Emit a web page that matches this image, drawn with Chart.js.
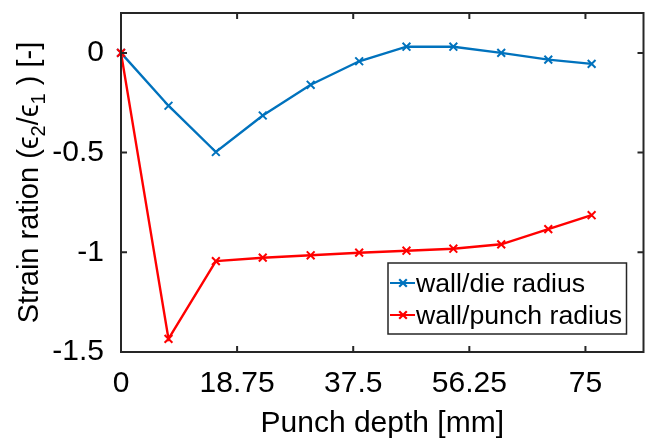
<!DOCTYPE html>
<html>
<head>
<meta charset="utf-8">
<script src="https://cdn.jsdelivr.net/npm/chart.js@4"></script>
<style>
  body { margin: 0; background: #fff; }
  #wrap { width: 651px; height: 442px; }
</style>
</head>
<body>
<div id="wrap"><canvas id="grafico"></canvas></div>
<script>
// punch depth [mm] of each measuring step
const depth = [0, 7.67, 15.32, 22.89, 30.63, 38.46, 46.1, 53.67, 61.4, 69.0, 76.0];
// strain ratio eps2/eps1
const dieRadius = [0, -0.265, -0.497, -0.314, -0.16, -0.042, 0.031, 0.031, 0, -0.034, -0.055];
const punchRadius = [0, -1.434, -1.044, -1.027, -1.015, -1.002, -0.992, -0.982, -0.96, -0.884, -0.814];
const seriesNames = ["wall/die radius", "wall/punch radius"];
const xTicks = [0, 18.75, 37.5, 56.25, 75];
const yTicks = [-1.5, -1, -0.5, 0];
const yTickLabels = ["-1.5", "-1", "-0.5", "0"];

const FONT = "'Liberation Sans', Arial, Helvetica, sans-serif";
const AXIS = "#262626";
const BLUE = "#0072BD";
const RED = "#FF0000";

function pares(xs, ys){
    return xs.map((x, i) => ({x: x, y: ys[i]}));
}

// box, inner ticks, y label with subscripts, legend
const adornos = {
    id: "adornos",
    afterDraw(chart){
        const ctx = chart.ctx;
        const a = chart.chartArea;
        const sx = chart.scales.x;
        const sy = chart.scales.y;
        const tl = 6;
        ctx.save();
        ctx.strokeStyle = AXIS;
        ctx.lineWidth = 2;
        ctx.strokeRect(a.left, a.top, a.right - a.left, a.bottom - a.top);
        ctx.beginPath();
        xTicks.forEach(v => {
            const px = sx.getPixelForValue(v);
            ctx.moveTo(px, a.bottom); ctx.lineTo(px, a.bottom - tl);
            ctx.moveTo(px, a.top); ctx.lineTo(px, a.top + tl);
        });
        yTicks.forEach(v => {
            const py = sy.getPixelForValue(v);
            ctx.moveTo(a.left, py); ctx.lineTo(a.left + tl, py);
            ctx.moveTo(a.right, py); ctx.lineTo(a.right - tl, py);
        });
        ctx.stroke();

        // y axis title
        const big = "29px " + FONT;
        const small = "20px " + FONT;
        const partes = [
            {t: "Strain ration (", f: big, d: 0},
            {t: "\u03F5", f: big, d: 0},
            {t: "2", f: small, d: 7},
            {t: "/", f: big, d: 0},
            {t: "\u03F5", f: big, d: 0},
            {t: "1", f: small, d: 7},
            {t: " ) [-]", f: big, d: 0}
        ];
        let total = 0;
        partes.forEach(p => { ctx.font = p.f; p.w = ctx.measureText(p.t).width; total += p.w; });
        ctx.translate(38, (a.top + a.bottom) / 2);
        ctx.rotate(-Math.PI / 2);
        ctx.fillStyle = "#000";
        ctx.textBaseline = "alphabetic";
        ctx.textAlign = "left";
        let cx = -total / 2;
        partes.forEach(p => { ctx.font = p.f; ctx.fillText(p.t, cx, p.d); cx += p.w; });
        ctx.restore();

        // legend
        ctx.save();
        const lx = 388, ly = 263, lw = 238.5, lh = 71;
        ctx.fillStyle = "#fff";
        ctx.fillRect(lx, ly, lw, lh);
        ctx.strokeStyle = AXIS;
        ctx.lineWidth = 1.5;
        ctx.strokeRect(lx, ly, lw, lh);
        ctx.font = "26.7px " + FONT;
        ctx.textBaseline = "alphabetic";
        ctx.textAlign = "left";
        const filas = [283, 315];
        const colores = [BLUE, RED];
        seriesNames.forEach((nombre, i) => {
            const yy = filas[i];
            ctx.strokeStyle = colores[i];
            ctx.lineWidth = 2.2;
            ctx.beginPath();
            ctx.moveTo(lx + 2, yy); ctx.lineTo(lx + 27, yy);
            const m = 3.8;
            ctx.moveTo(lx + 15 - m, yy - m); ctx.lineTo(lx + 15 + m, yy + m);
            ctx.moveTo(lx + 15 - m, yy + m); ctx.lineTo(lx + 15 + m, yy - m);
            ctx.stroke();
            ctx.fillStyle = "#000";
            ctx.fillText(nombre, lx + 28, yy + 8.5);
        });
        ctx.restore();
    }
};

new Chart(document.getElementById("grafico"), {
    type: "line",
    data: {
        datasets: [
            {
                label: seriesNames[1],
                data: pares(depth, punchRadius),
                borderColor: RED,
                backgroundColor: RED,
                borderWidth: 2.4,
                pointStyle: "crossRot",
                pointRadius: 5.5,
                pointBorderWidth: 2,
                tension: 0,
                clip: false,
                order: 0
            },
            {
                label: seriesNames[0],
                data: pares(depth, dieRadius),
                borderColor: BLUE,
                backgroundColor: BLUE,
                borderWidth: 2.4,
                pointStyle: "crossRot",
                pointRadius: 5.5,
                pointBorderWidth: 2,
                tension: 0,
                clip: false,
                order: 1
            }
        ]
    },
    options: {
        responsive: true,
        maintainAspectRatio: false,
        animation: false,
        layout: { padding: { left: 0, top: 13, right: 6, bottom: 0 } },
        plugins: { legend: { display: false }, tooltip: { enabled: false } },
        scales: {
            x: {
                type: "linear",
                min: 0,
                max: 84.375,
                grid: { display: false },
                border: { display: false },
                afterBuildTicks: s => { s.ticks = xTicks.map(v => ({value: v})); },
                afterFit: s => { s.height = 90; s.paddingLeft = 0; s.paddingRight = 0; },
                ticks: {
                    color: "#000",
                    padding: 6,
                    maxRotation: 0,
                    font: { family: FONT, size: 30 },
                    callback: v => String(v)
                },
                title: {
                    display: true,
                    text: "Punch depth [mm]",
                    color: "#000",
                    padding: { top: 0, bottom: 0 },
                    font: { family: FONT, size: 30, lineHeight: 1.2 }
                }
            },
            y: {
                type: "linear",
                min: -1.5,
                max: 0.2,
                grid: { display: false },
                border: { display: false },
                afterBuildTicks: s => { s.ticks = yTicks.map(v => ({value: v})); },
                afterFit: s => { s.width = 121; s.paddingTop = 0; s.paddingBottom = 0; },
                ticks: {
                    color: "#000",
                    padding: 9,
                    font: { family: FONT, size: 30 },
                    callback: v => yTickLabels[yTicks.indexOf(v)]
                }
            }
        }
    },
    plugins: [adornos]
});
</script>
</body>
</html>
